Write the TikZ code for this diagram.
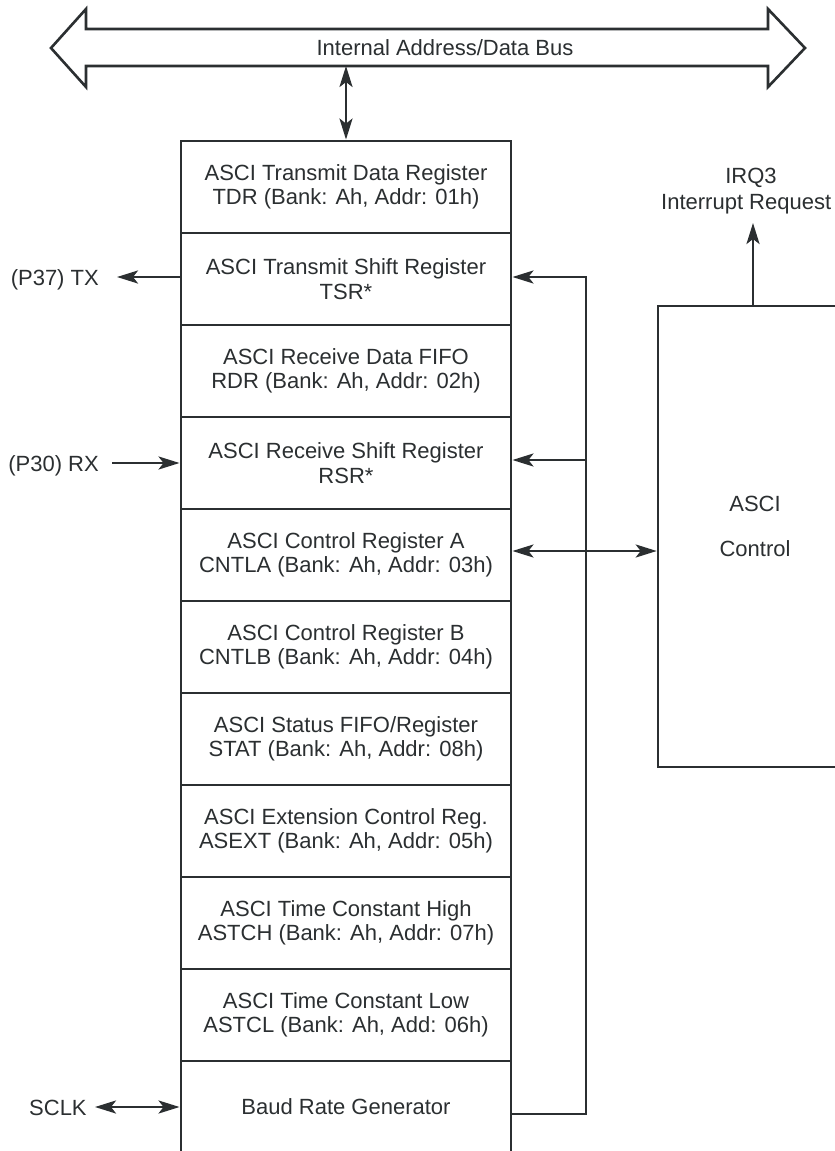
\documentclass[tikz,border=0pt]{standalone}
\usepackage{fontspec}
\setmainfont{Liberation Sans}
\usetikzlibrary{arrows.meta,calc}
\definecolor{ink}{HTML}{2B2F31}
\begin{document}
\begin{tikzpicture}[x=1pt,y=-1pt,
  every node/.style={text=ink, font=\fontsize{22}{24.5}\selectfont, inner sep=0pt},
  reg/.style={draw=ink, line width=2.9pt, minimum width=330pt, minimum height=92pt, align=center},
  tipA/.tip={Stealth[length=21pt,width=13pt,inset=5pt]},
  conn/.style={draw=ink, line width=2.5pt, -tipA},
  dconn/.style={draw=ink, line width=2.5pt, tipA-tipA},
  wire/.style={draw=ink, line width=2.5pt}]
\clip (0,0) rectangle (835,1151);
\fill[white] (0,0) rectangle (835,1151);
% bus
\draw[ink, line width=2.6pt, line join=miter] (51,48) -- (86,9) -- (86,29) -- (768,29) -- (768,9) -- (805,48) -- (768,87) -- (768,66) -- (86,66) -- (86,87) -- cycle;
\node (bus) at (445,47.5) {Internal Address/Data Bus};
% register stack
\node[reg] (tdr)   at (346,187)  {ASCI Transmit Data Register\\TDR (Bank: Ah, Addr: 01h)};
\node[reg] (tsr)   at (346,279)  {ASCI Transmit Shift Register\\TSR*};
\node[reg] (rdr)   at (346,371)  {ASCI Receive Data FIFO\\RDR (Bank: Ah, Addr: 02h)};
\node[reg] (rsr)   at (346,463)  {ASCI Receive Shift Register\\RSR*};
\node[reg] (cntla) at (346,555)  {ASCI Control Register A\\CNTLA (Bank: Ah, Addr: 03h)};
\node[reg] (cntlb) at (346,647)  {ASCI Control Register B\\CNTLB (Bank: Ah, Addr: 04h)};
\node[reg] (stat)  at (346,739)  {ASCI Status FIFO/Register\\STAT (Bank: Ah, Addr: 08h)};
\node[reg] (asext) at (346,831)  {ASCI Extension Control Reg.\\ASEXT (Bank: Ah, Addr: 05h)};
\node[reg] (astch) at (346,923)  {ASCI Time Constant High\\ASTCH (Bank: Ah, Addr: 07h)};
\node[reg] (astcl) at (346,1015) {ASCI Time Constant Low\\ASTCL (Bank: Ah, Add: 06h)};
\node[reg] (baud)  at (346,1107) {Baud Rate Generator};
% bus to stack
\coordinate (busb) at (346,66);
\draw[dconn] (busb) -- (tdr.north);
% control block
\node[draw=ink, line width=2.6pt, minimum width=260pt, minimum height=461pt] (ctrl) at (788,536.5) {};
\node (asci) at (755,504) {ASCI};
\node (ctrltxt) at (755,549) {Control};
\node[anchor=base] (irq) at (751,183) {IRQ3};
\node[anchor=base west] (irqtxt) at (661,209) {Interrupt Request};
\coordinate (irqtip) at (753,223);
\draw[conn] (irqtip |- ctrl.north) -- (irqtip);
% left side signals
\node[anchor=base east] (tx) at (99,285) {(P37) TX};
\coordinate (txtip) at (117,277);
\draw[conn] ([yshift=2pt]tsr.west) -- (txtip);
\node[anchor=base east] (rx) at (99,471) {(P30) RX};
\coordinate (rxtail) at (112,463);
\draw[conn] (rxtail) -- (rsr.west);
\node[anchor=base west] (sclk) at (29,1115) {SCLK};
\coordinate (sclkend) at (95,1107);
\draw[dconn] (sclkend) -- (baud.west);
% baud rate feeder
\coordinate (fr) at (586,1114);
\draw[conn] ([yshift=-7pt]baud.east) -- (fr) |- ([yshift=2pt]tsr.east);
\coordinate (rsrin) at ([yshift=3pt]rsr.east);
\draw[conn] (fr |- rsrin) -- (rsrin);
% control register A to control block
\coordinate (cain) at ([yshift=4pt]cntla.east);
\draw[dconn] (cain) -- (cain -| ctrl.west);
\end{tikzpicture}
\end{document}
